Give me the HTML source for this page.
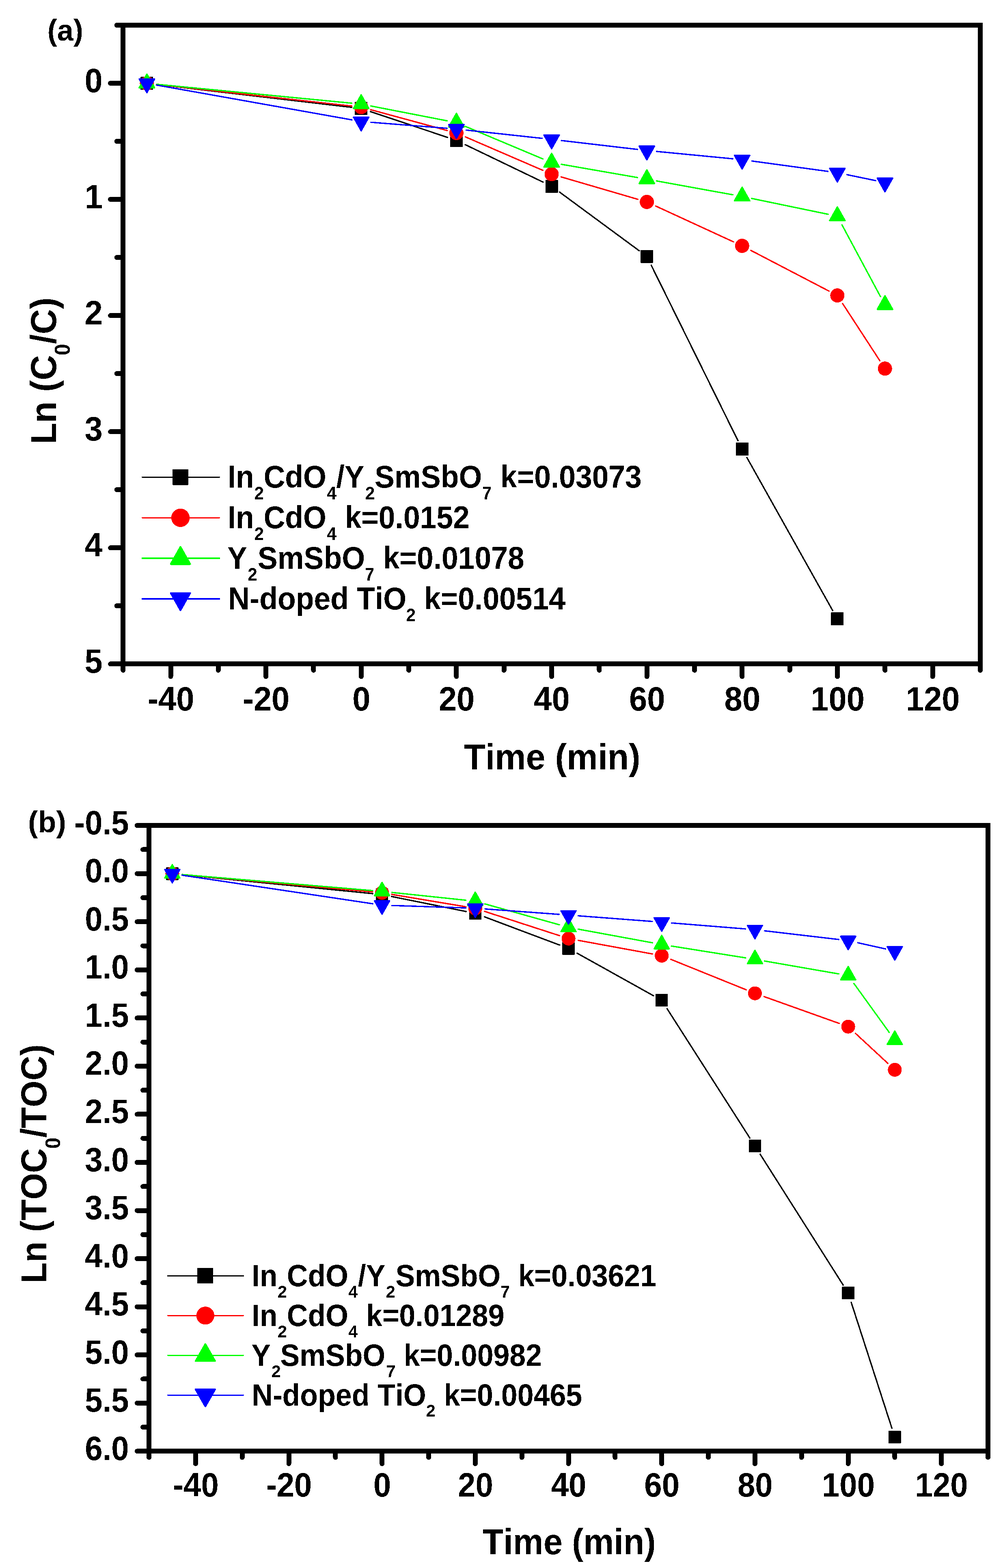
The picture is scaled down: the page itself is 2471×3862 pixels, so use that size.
<!DOCTYPE html>
<html lang="en"><head><meta charset="utf-8"><title>Kinetic plots: Ln(C0/C) and Ln(TOC0/TOC) versus time</title>
<style>html,body{margin:0;padding:0;background:#fff}svg{display:block}text{font-family:"Liberation Sans",Arial,Helvetica,sans-serif;font-weight:bold;fill:#000;font-kerning:none;white-space:pre}</style></head>
<body><svg width="2471" height="3862" viewBox="0 0 2471 3862" shape-rendering="crispEdges">
<rect width="2471" height="3862" fill="#fff"/>
<defs><filter id="crisp" x="-5%" y="-5%" width="110%" height="110%" color-interpolation-filters="sRGB"><feComponentTransfer><feFuncA type="discrete" tableValues="0 1"/></feComponentTransfer></filter></defs>
<g id="panel-a">
<g class="series">
<path d="M385.94,208.11L866.66,264.39M912.74,274.8L1102.31,338.39M1146.21,356.29L1338,448.6M1378.48,473.05L1574.84,617.68M1604.33,653.19L1817.97,1085.12M1840.14,1127.11L2051.5,1503.98" stroke="#000000" stroke-width="3.4" fill="none" stroke-linecap="round"/>
<rect x="346.4" y="189.3" width="31" height="32" rx="1" fill="#000000"/>
<rect x="874.3" y="251.1" width="31" height="32" rx="1" fill="#000000"/>
<rect x="1108.9" y="329.8" width="31" height="32" rx="1" fill="#000000"/>
<rect x="1343.5" y="442.7" width="31" height="32" rx="1" fill="#000000"/>
<rect x="1578.1" y="615.5" width="31" height="32" rx="1" fill="#000000"/>
<rect x="1812.8" y="1090" width="31" height="32" rx="1" fill="#000000"/>
<rect x="2047.4" y="1508.3" width="31" height="32" rx="1" fill="#000000"/>
<path d="M385.95,207.97L866.64,261.23M913.15,270.15L1101.92,321.49M1146.62,337.19L1337.61,419.66M1382.23,435.68L1571.23,490.87M1615.58,507.52L1807.14,595.75M1849.76,616.68L2042.24,716.94M2076.11,747.98L2167.48,888.28" stroke="#ff0000" stroke-width="3.4" fill="none" stroke-linecap="round"/>
<circle cx="361.9" cy="205.3" r="17.5" fill="#ff0000"/>
<circle cx="889.8" cy="263.8" r="17.5" fill="#ff0000"/>
<circle cx="1124.4" cy="327.6" r="17.5" fill="#ff0000"/>
<circle cx="1359" cy="428.9" r="17.5" fill="#ff0000"/>
<circle cx="1593.6" cy="497.4" r="17.5" fill="#ff0000"/>
<circle cx="1828.3" cy="605.5" r="17.5" fill="#ff0000"/>
<circle cx="2062.9" cy="727.7" r="17.5" fill="#ff0000"/>
<circle cx="2180.2" cy="907.8" r="17.5" fill="#ff0000"/>
<path d="M385.99,207.63L866.61,254.16M913.56,261.02L1101.53,297.55M1146.71,311.37L1337.52,391.48M1382.84,404.65L1570.64,437.31M1617.41,445.62L1805.37,479.74M1852,488.81L2040.08,527.77M2074.34,553.82L2169.18,730.57" stroke="#00ff00" stroke-width="3.4" fill="none" stroke-linecap="round"/>
<polygon points="361.9,182.55 380.75,216.05 343.05,216.05" fill="#00ff00" stroke="#00ff00" stroke-width="3.5" stroke-linejoin="round"/>
<polygon points="889.8,233.65 908.65,267.15 870.95,267.15" fill="#00ff00" stroke="#00ff00" stroke-width="3.5" stroke-linejoin="round"/>
<polygon points="1124.4,279.25 1143.25,312.75 1105.55,312.75" fill="#00ff00" stroke="#00ff00" stroke-width="3.5" stroke-linejoin="round"/>
<polygon points="1359,377.75 1377.85,411.25 1340.15,411.25" fill="#00ff00" stroke="#00ff00" stroke-width="3.5" stroke-linejoin="round"/>
<polygon points="1593.6,418.55 1612.45,452.05 1574.75,452.05" fill="#00ff00" stroke="#00ff00" stroke-width="3.5" stroke-linejoin="round"/>
<polygon points="1828.3,461.15 1847.15,494.65 1809.45,494.65" fill="#00ff00" stroke="#00ff00" stroke-width="3.5" stroke-linejoin="round"/>
<polygon points="2062.9,509.75 2081.75,543.25 2044.05,543.25" fill="#00ff00" stroke="#00ff00" stroke-width="3.5" stroke-linejoin="round"/>
<polygon points="2180.2,728.35 2199.05,761.85 2161.35,761.85" fill="#00ff00" stroke="#00ff00" stroke-width="3.5" stroke-linejoin="round"/>
<path d="M385.73,209.54L866.86,295.22M913.93,301.2L1101.17,315.97M1148.46,320.42L1335.84,340.78M1383.04,346.11L1570.46,368M1617.69,373.02L1805.11,391.07M1852.28,396.57L2039.81,422.15M2086.6,430.21L2157.38,444.87" stroke="#0000ff" stroke-width="3.4" fill="none" stroke-linecap="round"/>
<polygon points="361.9,228.05 380.75,194.55 343.05,194.55" fill="#0000ff" stroke="#0000ff" stroke-width="3.5" stroke-linejoin="round"/>
<polygon points="889.8,322.05 908.65,288.55 870.95,288.55" fill="#0000ff" stroke="#0000ff" stroke-width="3.5" stroke-linejoin="round"/>
<polygon points="1124.4,340.55 1143.25,307.05 1105.55,307.05" fill="#0000ff" stroke="#0000ff" stroke-width="3.5" stroke-linejoin="round"/>
<polygon points="1359,366.05 1377.85,332.55 1340.15,332.55" fill="#0000ff" stroke="#0000ff" stroke-width="3.5" stroke-linejoin="round"/>
<polygon points="1593.6,393.45 1612.45,359.95 1574.75,359.95" fill="#0000ff" stroke="#0000ff" stroke-width="3.5" stroke-linejoin="round"/>
<polygon points="1828.3,416.05 1847.15,382.55 1809.45,382.55" fill="#0000ff" stroke="#0000ff" stroke-width="3.5" stroke-linejoin="round"/>
<polygon points="2062.9,448.05 2081.75,414.55 2044.05,414.55" fill="#0000ff" stroke="#0000ff" stroke-width="3.5" stroke-linejoin="round"/>
<polygon points="2180.2,472.35 2199.05,438.85 2161.35,438.85" fill="#0000ff" stroke="#0000ff" stroke-width="3.5" stroke-linejoin="round"/>
</g>
<g class="axes">
<rect x="303.2" y="62" width="2111.8" height="1573.3" fill="none" stroke="#000" stroke-width="12"/>
<path d="M420.52,1635.3v31M655.17,1635.3v31M889.81,1635.3v31M1124.46,1635.3v31M1359.1,1635.3v31M1593.74,1635.3v31M1828.39,1635.3v31M2063.03,1635.3v31M2297.68,1635.3v31M303.2,1635.3v15.5M537.84,1635.3v15.5M772.49,1635.3v15.5M1007.13,1635.3v15.5M1241.78,1635.3v15.5M1476.42,1635.3v15.5M1711.07,1635.3v15.5M1945.71,1635.3v15.5M2180.36,1635.3v15.5M2415,1635.3v15.5M303.2,205.03h-31M303.2,491.08h-31M303.2,777.14h-31M303.2,1063.19h-31M303.2,1349.25h-31M303.2,1635.3h-31M303.2,62h-15.5M303.2,348.05h-15.5M303.2,634.11h-15.5M303.2,920.16h-15.5M303.2,1206.22h-15.5M303.2,1492.27h-15.5" stroke="#000" stroke-width="12" fill="none" stroke-linecap="round"/>
</g>
<g class="ticklabels" filter="url(#crisp)">
<text transform="translate(363.5,1749.9) scale(0.9476,1)" font-size="84">-40</text>
<text transform="translate(598.14,1749.9) scale(0.9476,1)" font-size="84">-20</text>
<text transform="translate(868.18,1749.9) scale(0.9476,1)" font-size="84">0</text>
<text transform="translate(1080.69,1749.9) scale(0.9476,1)" font-size="84">20</text>
<text transform="translate(1315.33,1749.9) scale(0.9476,1)" font-size="84">40</text>
<text transform="translate(1549.98,1749.9) scale(0.9476,1)" font-size="84">60</text>
<text transform="translate(1784.62,1749.9) scale(0.9476,1)" font-size="84">80</text>
<text transform="translate(1997.13,1749.9) scale(0.9476,1)" font-size="84">100</text>
<text transform="translate(2231.77,1749.9) scale(0.9476,1)" font-size="84">120</text>
<text transform="translate(208.43,226.73) scale(0.9476,1)" font-size="84">0</text>
<text transform="translate(208.43,512.78) scale(0.9476,1)" font-size="84">1</text>
<text transform="translate(208.43,798.84) scale(0.9476,1)" font-size="84">2</text>
<text transform="translate(208.43,1084.89) scale(0.9476,1)" font-size="84">3</text>
<text transform="translate(208.43,1370.95) scale(0.9476,1)" font-size="84">4</text>
<text transform="translate(208.43,1657) scale(0.9476,1)" font-size="84">5</text>
</g>
<g class="titles" filter="url(#crisp)">
<text transform="translate(1142.93,1894.8) scale(0.9610,1)" font-size="89.5">Time (min)</text>
<text transform="translate(138,1094.05) rotate(-90) scale(0.9610,1)" font-size="89.5"><tspan x="0" y="0" font-size="89.5">Ln (C</tspan><tspan x="227.51" y="33.6" font-size="53">0</tspan><tspan x="256.83" y="0" font-size="89.5">/C)</tspan></text>
<text transform="translate(116.7,99.5) scale(0.9760,1)" font-size="74">(a)</text>
</g>
<g class="legend" filter="url(#crisp)">
<path d="M350.5,1175.3H540.5" stroke="#000000" stroke-width="3" stroke-linecap="round"/>
<rect x="425.1" y="1155.8" width="39" height="39" rx="1.5" fill="#000000"/>
<text transform="translate(560.8,1201.3) scale(0.9510,1)" font-size="77"><tspan x="0" y="0" font-size="77">In</tspan><tspan x="69.17" y="28.6" font-size="44.5">2</tspan><tspan x="93.16" y="0" font-size="77">CdO</tspan><tspan x="256.95" y="28.6" font-size="44.5">4</tspan><tspan x="281.48" y="0" font-size="77">/Y</tspan><tspan x="356.5" y="28.6" font-size="44.5">2</tspan><tspan x="380.75" y="0" font-size="77">SmSbO</tspan><tspan x="659.29" y="28.6" font-size="44.5">7</tspan><tspan x="685.11" y="0" font-size="77"> k=0.03073</tspan></text>
<path d="M350.5,1275.3H540.5" stroke="#ff0000" stroke-width="3" stroke-linecap="round"/>
<circle cx="444.6" cy="1275.3" r="22.65" fill="#ff0000"/>
<text transform="translate(560.8,1301.3) scale(0.9510,1)" font-size="77"><tspan x="0" y="0" font-size="77">In</tspan><tspan x="69.17" y="28.6" font-size="44.5">2</tspan><tspan x="93.16" y="0" font-size="77">CdO</tspan><tspan x="256.95" y="28.6" font-size="44.5">4</tspan><tspan x="282.06" y="0" font-size="77"> k=0.0152</tspan></text>
<path d="M350.5,1375H540.5" stroke="#00ff00" stroke-width="4" stroke-linecap="round"/>
<polygon points="444.6,1347.25 468.35,1389.25 420.85,1389.25" fill="#00ff00" stroke="#00ff00" stroke-width="4.5" stroke-linejoin="round"/>
<text transform="translate(559.95,1401.3) scale(0.9510,1)" font-size="77"><tspan x="0" y="0" font-size="77">Y</tspan><tspan x="52.98" y="28.6" font-size="44.5">2</tspan><tspan x="78.59" y="0" font-size="77">SmSbO</tspan><tspan x="356.29" y="28.6" font-size="44.5">7</tspan><tspan x="382.01" y="0" font-size="77"> k=0.01078</tspan></text>
<path d="M350.5,1475H540.5" stroke="#0000ff" stroke-width="4" stroke-linecap="round"/>
<polygon points="444.6,1502.75 468.35,1460.75 420.85,1460.75" fill="#0000ff" stroke="#0000ff" stroke-width="4.5" stroke-linejoin="round"/>
<text transform="translate(562.1,1501.3) scale(0.9510,1)" font-size="77"><tspan x="0" y="0" font-size="77">N-doped TiO</tspan><tspan x="460.92" y="28.6" font-size="44.5">2</tspan><tspan x="486.27" y="0" font-size="77"> k=0.00514</tspan></text>
</g>
</g>
<g id="panel-b">
<g class="series">
<path d="M448.58,2154.39L918.01,2201M964.92,2208.09L1148.06,2245.09M1193.56,2258.2L1378.79,2327.71M1421.74,2347.68L1609.85,2452.46M1643.25,2484.18L1847.34,2802.98M1872.87,2843.03L2077.12,3164.93M2097.05,3207.63L2197.23,3517.43" stroke="#000000" stroke-width="3.4" fill="none" stroke-linecap="round"/>
<rect x="409.3" y="2136.4" width="30.4" height="31.2" rx="1" fill="#000000"/>
<rect x="926" y="2187.7" width="30.4" height="31.2" rx="1" fill="#000000"/>
<rect x="1155.7" y="2234.1" width="30.4" height="31.2" rx="1" fill="#000000"/>
<rect x="1385.4" y="2320.3" width="30.4" height="31.2" rx="1" fill="#000000"/>
<rect x="1615" y="2448.2" width="30.4" height="31.2" rx="1" fill="#000000"/>
<rect x="1844.7" y="2807" width="30.4" height="31.2" rx="1" fill="#000000"/>
<rect x="2074.4" y="3169" width="30.4" height="31.2" rx="1" fill="#000000"/>
<rect x="2189.2" y="3524" width="30.4" height="31.2" rx="1" fill="#000000"/>
<path d="M448.6,2154.19L918,2196.79M965.07,2202.89L1147.92,2233.46M1193.92,2244.76L1378.43,2304.52M1424.4,2316.06L1607.28,2349.6M1652.64,2362.87L1838.3,2437.87M1882.69,2454.74L2067.66,2520.77M2107.36,2545.04L2187.3,2619.07" stroke="#ff0000" stroke-width="3.4" fill="none" stroke-linecap="round"/>
<circle cx="424.5" cy="2152" r="17.1" fill="#ff0000"/>
<circle cx="941.2" cy="2198.9" r="17.1" fill="#ff0000"/>
<circle cx="1170.9" cy="2237.3" r="17.1" fill="#ff0000"/>
<circle cx="1400.6" cy="2311.7" r="17.1" fill="#ff0000"/>
<circle cx="1630.2" cy="2353.8" r="17.1" fill="#ff0000"/>
<circle cx="1859.9" cy="2446.6" r="17.1" fill="#ff0000"/>
<circle cx="2089.6" cy="2528.6" r="17.1" fill="#ff0000"/>
<circle cx="2204.4" cy="2634.9" r="17.1" fill="#ff0000"/>
<path d="M448.61,2154.03L917.98,2193.55M965.27,2198.04L1147.73,2217.26M1194.2,2226.23L1378.17,2277.81M1424.4,2288.47L1607.28,2322.09M1654.1,2330.11L1836.89,2359.23M1883.74,2367.04L2066.64,2398.81M2103.77,2422.42L2190.76,2542.81" stroke="#00ff00" stroke-width="3.4" fill="none" stroke-linecap="round"/>
<polygon points="424.5,2129.8 442.9,2162.5 406.1,2162.5" fill="#00ff00" stroke="#00ff00" stroke-width="3.5" stroke-linejoin="round"/>
<polygon points="941.2,2173.3 959.6,2206 922.8,2206" fill="#00ff00" stroke="#00ff00" stroke-width="3.5" stroke-linejoin="round"/>
<polygon points="1170.9,2197.5 1189.3,2230.2 1152.5,2230.2" fill="#00ff00" stroke="#00ff00" stroke-width="3.5" stroke-linejoin="round"/>
<polygon points="1400.6,2261.9 1419,2294.6 1382.2,2294.6" fill="#00ff00" stroke="#00ff00" stroke-width="3.5" stroke-linejoin="round"/>
<polygon points="1630.2,2304.1 1648.6,2336.8 1611.8,2336.8" fill="#00ff00" stroke="#00ff00" stroke-width="3.5" stroke-linejoin="round"/>
<polygon points="1859.9,2340.7 1878.3,2373.4 1841.5,2373.4" fill="#00ff00" stroke="#00ff00" stroke-width="3.5" stroke-linejoin="round"/>
<polygon points="2089.6,2380.6 2108,2413.3 2071.2,2413.3" fill="#00ff00" stroke="#00ff00" stroke-width="3.5" stroke-linejoin="round"/>
<polygon points="2204.4,2539.5 2222.8,2572.2 2186,2572.2" fill="#00ff00" stroke="#00ff00" stroke-width="3.5" stroke-linejoin="round"/>
<path d="M448.43,2155.59L918.16,2225.95M965.39,2230.2L1147.61,2236.23M1195.04,2238.77L1377.36,2252.1M1424.73,2255.64L1606.97,2269.53M1654.32,2273.24L1836.68,2287.93M1883.94,2292.61L2066.46,2313.99M2113.22,2321.97L2181.66,2337.23" stroke="#0000ff" stroke-width="3.4" fill="none" stroke-linecap="round"/>
<polygon points="424.5,2174.2 442.9,2141.5 406.1,2141.5" fill="#0000ff" stroke="#0000ff" stroke-width="3.5" stroke-linejoin="round"/>
<polygon points="941.2,2251.6 959.6,2218.9 922.8,2218.9" fill="#0000ff" stroke="#0000ff" stroke-width="3.5" stroke-linejoin="round"/>
<polygon points="1170.9,2259.2 1189.3,2226.5 1152.5,2226.5" fill="#0000ff" stroke="#0000ff" stroke-width="3.5" stroke-linejoin="round"/>
<polygon points="1400.6,2276 1419,2243.3 1382.2,2243.3" fill="#0000ff" stroke="#0000ff" stroke-width="3.5" stroke-linejoin="round"/>
<polygon points="1630.2,2293.5 1648.6,2260.8 1611.8,2260.8" fill="#0000ff" stroke="#0000ff" stroke-width="3.5" stroke-linejoin="round"/>
<polygon points="1859.9,2312 1878.3,2279.3 1841.5,2279.3" fill="#0000ff" stroke="#0000ff" stroke-width="3.5" stroke-linejoin="round"/>
<polygon points="2089.6,2338.9 2108,2306.2 2071.2,2306.2" fill="#0000ff" stroke="#0000ff" stroke-width="3.5" stroke-linejoin="round"/>
<polygon points="2204.4,2364.5 2222.8,2331.8 2186,2331.8" fill="#0000ff" stroke="#0000ff" stroke-width="3.5" stroke-linejoin="round"/>
</g>
<g class="axes">
<rect x="367.1" y="2033.2" width="2066.9" height="1541.1" fill="none" stroke="#000" stroke-width="12"/>
<path d="M481.93,3574.3v30.7M711.58,3574.3v30.7M941.24,3574.3v30.7M1170.89,3574.3v30.7M1400.55,3574.3v30.7M1630.21,3574.3v30.7M1859.86,3574.3v30.7M2089.52,3574.3v30.7M2319.17,3574.3v30.7M367.1,3574.3v15.3M596.76,3574.3v15.3M826.41,3574.3v15.3M1056.07,3574.3v15.3M1285.72,3574.3v15.3M1515.38,3574.3v15.3M1745.03,3574.3v15.3M1974.69,3574.3v15.3M2204.34,3574.3v15.3M2434,3574.3v15.3M367.1,2033.2h-29.3M367.1,2151.75h-29.3M367.1,2270.29h-29.3M367.1,2388.84h-29.3M367.1,2507.38h-29.3M367.1,2625.93h-29.3M367.1,2744.48h-29.3M367.1,2863.02h-29.3M367.1,2981.57h-29.3M367.1,3100.12h-29.3M367.1,3218.66h-29.3M367.1,3337.21h-29.3M367.1,3455.75h-29.3M367.1,3574.3h-29.3M367.1,2092.47h-15M367.1,2211.02h-15M367.1,2329.57h-15M367.1,2448.11h-15M367.1,2566.66h-15M367.1,2685.2h-15M367.1,2803.75h-15M367.1,2922.3h-15M367.1,3040.84h-15M367.1,3159.39h-15M367.1,3277.93h-15M367.1,3396.48h-15M367.1,3515.03h-15" stroke="#000" stroke-width="12" fill="none" stroke-linecap="round"/>
</g>
<g class="ticklabels" filter="url(#crisp)">
<text transform="translate(426.06,3685.8) scale(0.9286,1)" font-size="84">-40</text>
<text transform="translate(655.71,3685.8) scale(0.9286,1)" font-size="84">-20</text>
<text transform="translate(920.05,3685.8) scale(0.9286,1)" font-size="84">0</text>
<text transform="translate(1128.01,3685.8) scale(0.9286,1)" font-size="84">20</text>
<text transform="translate(1357.67,3685.8) scale(0.9286,1)" font-size="84">40</text>
<text transform="translate(1587.32,3685.8) scale(0.9286,1)" font-size="84">60</text>
<text transform="translate(1816.98,3685.8) scale(0.9286,1)" font-size="84">80</text>
<text transform="translate(2024.94,3685.8) scale(0.9286,1)" font-size="84">100</text>
<text transform="translate(2254.6,3685.8) scale(0.9286,1)" font-size="84">120</text>
<text transform="translate(183.19,2054.7) scale(0.9286,1)" font-size="84">-0.5</text>
<text transform="translate(209.17,2173.25) scale(0.9286,1)" font-size="84">0.0</text>
<text transform="translate(209.17,2291.79) scale(0.9286,1)" font-size="84">0.5</text>
<text transform="translate(209.17,2410.34) scale(0.9286,1)" font-size="84">1.0</text>
<text transform="translate(209.17,2528.88) scale(0.9286,1)" font-size="84">1.5</text>
<text transform="translate(209.17,2647.43) scale(0.9286,1)" font-size="84">2.0</text>
<text transform="translate(209.17,2765.98) scale(0.9286,1)" font-size="84">2.5</text>
<text transform="translate(209.17,2884.52) scale(0.9286,1)" font-size="84">3.0</text>
<text transform="translate(209.17,3003.07) scale(0.9286,1)" font-size="84">3.5</text>
<text transform="translate(209.17,3121.62) scale(0.9286,1)" font-size="84">4.0</text>
<text transform="translate(209.17,3240.16) scale(0.9286,1)" font-size="84">4.5</text>
<text transform="translate(209.17,3358.71) scale(0.9286,1)" font-size="84">5.0</text>
<text transform="translate(209.17,3477.25) scale(0.9286,1)" font-size="84">5.5</text>
<text transform="translate(209.17,3595.8) scale(0.9286,1)" font-size="84">6.0</text>
</g>
<g class="titles" filter="url(#crisp)">
<text transform="translate(1188.85,3828.3) scale(0.9483,1)" font-size="89">Time (min)</text>
<text transform="translate(114,3160.75) rotate(-90) scale(0.9483,1)" font-size="89"><tspan x="0" y="0" font-size="89">Ln (TOC</tspan><tspan x="349.56" y="33.9" font-size="52.3">0</tspan><tspan x="378.38" y="0" font-size="89">/TOC)</tspan></text>
<text transform="translate(69.04,2050.3) scale(0.9930,1)" font-size="74">(b)</text>
</g>
<g class="legend" filter="url(#crisp)">
<path d="M413.6,3142.5H599.5" stroke="#000000" stroke-width="3" stroke-linecap="round"/>
<rect x="486" y="3122.9" width="39" height="38.2" rx="1.5" fill="#000000"/>
<text transform="translate(619.91,3168.1) scale(0.9530,1)" font-size="75.2"><tspan x="0" y="0" font-size="75.2">In</tspan><tspan x="67.32" y="27.6" font-size="43.4">2</tspan><tspan x="91.24" y="0" font-size="75.2">CdO</tspan><tspan x="250.33" y="27.6" font-size="43.4">4</tspan><tspan x="274.81" y="0" font-size="75.2">/Y</tspan><tspan x="347.28" y="27.6" font-size="43.4">2</tspan><tspan x="372.12" y="0" font-size="75.2">SmSbO</tspan><tspan x="643.25" y="27.6" font-size="43.4">7</tspan><tspan x="668.18" y="0" font-size="75.2"> k=0.03621</tspan></text>
<path d="M413.6,3240.3H599.5" stroke="#ff0000" stroke-width="3" stroke-linecap="round"/>
<circle cx="505.9" cy="3240.3" r="22.1" fill="#ff0000"/>
<text transform="translate(619.91,3266) scale(0.9530,1)" font-size="75.2"><tspan x="0" y="0" font-size="75.2">In</tspan><tspan x="67.32" y="27.6" font-size="43.4">2</tspan><tspan x="91.24" y="0" font-size="75.2">CdO</tspan><tspan x="250.33" y="27.6" font-size="43.4">4</tspan><tspan x="274.9" y="0" font-size="75.2"> k=0.01289</tspan></text>
<path d="M413.6,3338.2H599.5" stroke="#00ff00" stroke-width="3" stroke-linecap="round"/>
<polygon points="505.9,3310.7 529.65,3352.2 482.15,3352.2" fill="#00ff00" stroke="#00ff00" stroke-width="4.5" stroke-linejoin="round"/>
<text transform="translate(619.28,3363.9) scale(0.9530,1)" font-size="75.2"><tspan x="0" y="0" font-size="75.2">Y</tspan><tspan x="51.93" y="27.6" font-size="43.4">2</tspan><tspan x="74.77" y="0" font-size="75.2">SmSbO</tspan><tspan x="348.53" y="27.6" font-size="43.4">7</tspan><tspan x="372.73" y="0" font-size="75.2"> k=0.00982</tspan></text>
<path d="M413.6,3436.2H599.5" stroke="#0000ff" stroke-width="3" stroke-linecap="round"/>
<polygon points="505.9,3463.7 529.65,3422.2 482.15,3422.2" fill="#0000ff" stroke="#0000ff" stroke-width="4.5" stroke-linejoin="round"/>
<text transform="translate(619.91,3461.8) scale(0.9530,1)" font-size="75.2"><tspan x="0" y="0" font-size="75.2">N-doped TiO</tspan><tspan x="451.16" y="27.6" font-size="43.4">2</tspan><tspan x="475.95" y="0" font-size="75.2"> k=0.00465</tspan></text>
</g>
</g>
</svg></body></html>
